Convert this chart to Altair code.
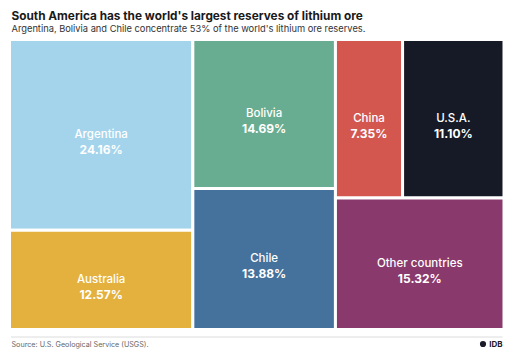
import altair as alt
import pandas as pd

title = "South America has the world's largest reserves of lithium ore"
subtitle = "Argentina, Bolivia and Chile concentrate 53% of the world's lithium ore reserves."
source = "Source: U.S. Geological Service (USGS)."

countries = ["Argentina", "Australia", "Bolivia", "Chile", "China", "U.S.A.", "Other countries"]
shares = [24.16, 12.57, 14.69, 13.88, 7.35, 11.10, 15.32]
colors = ["#a3d4ec", "#e4b13e", "#68ad91", "#44729c", "#d3574f", "#161a27", "#8a396c"]
column = [0, 0, 1, 1, 2, 2, 2]
row = [0, 1, 0, 1, 0, 0, 1]

# slice-and-dice layout computed from the shares
df = pd.DataFrame({"country": countries, "share": shares, "col": column, "row": row})
total = df["share"].sum()
recs = []
cx = 0.0
for c in sorted(df["col"].unique()):
    cdf = df[df["col"] == c]
    csum = cdf["share"].sum()
    cw = csum / total
    cy = 0.0
    for r in sorted(cdf["row"].unique()):
        rdf = cdf[cdf["row"] == r]
        rsum = rdf["share"].sum()
        rh = rsum / csum
        rx = cx
        for _, item in rdf.iterrows():
            w = cw * item["share"] / rsum
            recs.append({"country": item["country"], "share": item["share"],
                         "x0": rx, "x1": rx + w, "y0": cy, "y1": cy + rh})
            rx += w
        cy += rh
    cx += cw
lay = pd.DataFrame(recs)
lay["xm"] = (lay["x0"] + lay["x1"]) / 2
lay["ym"] = (lay["y0"] + lay["y1"]) / 2
lay["pct"] = lay["share"].map(lambda v: f"{v:.2f}%")

W, H = 494.5, 290
xs = alt.Scale(domain=[0, 1], nice=False, zero=False)
ys = alt.Scale(domain=[0, 1], nice=False, zero=False, reverse=True)
FONT = "Inter"

base = alt.Chart(lay)
rects = base.mark_rect(stroke="white", strokeWidth=3).encode(
    x=alt.X("x0:Q", scale=xs, axis=None),
    x2="x1:Q",
    y=alt.Y("y0:Q", scale=ys, axis=None),
    y2="y1:Q",
    color=alt.Color("country:N", scale=alt.Scale(domain=countries, range=colors), legend=None),
)
names = base.mark_text(font=FONT, fontSize=11.5, fontWeight=500, color="white",
                       baseline="alphabetic", dy=3).encode(
    x=alt.X("xm:Q", scale=xs), y=alt.Y("ym:Q", scale=ys), text="country:N")
pcts = base.mark_text(font=FONT, fontSize=12, fontWeight="bold", color="white",
                      baseline="alphabetic", dy=19).encode(
    x=alt.X("xm:Q", scale=xs), y=alt.Y("ym:Q", scale=ys), text="pct:N")

one = alt.Data(values=[{"a": 1}])
rule = alt.Chart(one).mark_rule(color="#dcdcdc", strokeWidth=1).encode(
    x=alt.value(1.5), x2=alt.value(W - 1.5), y=alt.value(H + 7.5))
src = alt.Chart(one).mark_text(font=FONT, fontSize=7.2, color="#666666", align="left",
                               baseline="alphabetic").encode(
    x=alt.value(2), y=alt.value(H + 17.5), text=alt.value(source))
logo_t = alt.Chart(one).mark_text(font=FONT, fontSize=8, fontWeight="bold", color="#1a1a2a",
                                  align="right", baseline="alphabetic").encode(
    x=alt.value(W - 1.5), y=alt.value(H + 17.5), text=alt.value("IDB"))
logo_c = alt.Chart(one).mark_point(filled=True, color="#1a1a2a", size=38, opacity=1).encode(
    x=alt.value(W - 21), y=alt.value(H + 14.5))

chart = alt.layer(rects, names, pcts, rule, src, logo_t, logo_c).properties(
    width=W, height=H,
    autosize=alt.AutoSizeParams(type="none"),
    padding={"left": 1.5, "top": 31.5, "right": 0, "bottom": 19.5},
    title=alt.TitleParams(
        text=title, subtitle=subtitle, anchor="start", frame="group",
        font=FONT, fontSize=11.8, fontWeight="bold", color="#1a1a1a",
        subtitleFont=FONT, subtitleFontSize=9.3, subtitleColor="#333333",
        subtitlePadding=2, offset=4, dx=2,
    ),
).configure_view(stroke=None)

chart.save("out.html", embed_options={"renderer": "svg", "actions": False})
